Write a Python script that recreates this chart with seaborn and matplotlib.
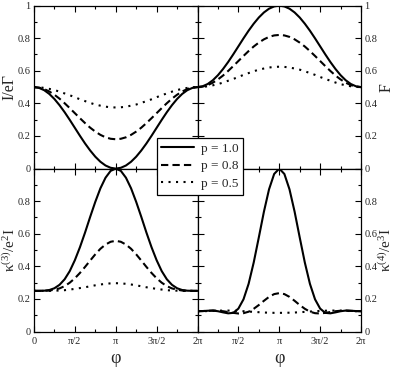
import numpy as np
import matplotlib
matplotlib.use('Agg')
import matplotlib.pyplot as plt
import seaborn as sns

sns.set_style('ticks')
plt.rcParams['font.family'] = ['Liberation Serif', 'DejaVu Serif']
plt.rcParams['mathtext.default'] = 'regular'

# phase grid: 0 .. 2pi in steps of pi/16
phi = np.linspace(0, 2 * np.pi, 33)

p_labels = ['p = 1.0', 'p = 0.8', 'p = 0.5']

# current I/eGamma
current_p10 = [0.500, 0.495, 0.481, 0.458, 0.427, 0.389, 0.346, 0.299, 0.250, 0.201, 0.154,
               0.111, 0.073, 0.042, 0.019, 0.005, 0.000, 0.005, 0.019, 0.042, 0.073, 0.111,
               0.154, 0.201, 0.250, 0.299, 0.346, 0.389, 0.427, 0.458, 0.481, 0.495, 0.500]
current_p08 = [0.500, 0.497, 0.488, 0.473, 0.453, 0.429, 0.401, 0.371, 0.340, 0.309, 0.279,
               0.251, 0.227, 0.207, 0.192, 0.183, 0.180, 0.183, 0.192, 0.207, 0.227, 0.251,
               0.279, 0.309, 0.340, 0.371, 0.401, 0.429, 0.453, 0.473, 0.488, 0.497, 0.500]
current_p05 = [0.500, 0.499, 0.495, 0.489, 0.482, 0.472, 0.461, 0.450, 0.438, 0.425, 0.414,
               0.403, 0.393, 0.386, 0.380, 0.376, 0.375, 0.376, 0.380, 0.386, 0.393, 0.403,
               0.414, 0.425, 0.438, 0.450, 0.461, 0.472, 0.482, 0.489, 0.495, 0.499, 0.500]

# Fano factor F
fano_p10 = [0.500, 0.505, 0.519, 0.542, 0.573, 0.611, 0.654, 0.701, 0.750, 0.799, 0.846,
            0.889, 0.927, 0.958, 0.981, 0.995, 1.000, 0.995, 0.981, 0.958, 0.927, 0.889,
            0.846, 0.799, 0.750, 0.701, 0.654, 0.611, 0.573, 0.542, 0.519, 0.505, 0.500]
fano_p08 = [0.500, 0.503, 0.512, 0.527, 0.547, 0.571, 0.599, 0.629, 0.660, 0.691, 0.721,
            0.749, 0.773, 0.793, 0.808, 0.817, 0.820, 0.817, 0.808, 0.793, 0.773, 0.749,
            0.721, 0.691, 0.660, 0.629, 0.599, 0.571, 0.547, 0.527, 0.512, 0.503, 0.500]
fano_p05 = [0.500, 0.501, 0.505, 0.511, 0.518, 0.528, 0.539, 0.550, 0.562, 0.575, 0.586,
            0.597, 0.607, 0.614, 0.620, 0.624, 0.625, 0.624, 0.620, 0.614, 0.607, 0.597,
            0.586, 0.575, 0.562, 0.550, 0.539, 0.528, 0.518, 0.511, 0.505, 0.501, 0.500]

# third cumulant kappa3/e^2 I
k3_p10 = [0.250, 0.250, 0.251, 0.255, 0.266, 0.287, 0.321, 0.371, 0.438, 0.518, 0.608,
          0.704, 0.796, 0.879, 0.944, 0.986, 1.000, 0.986, 0.944, 0.879, 0.796, 0.704,
          0.608, 0.518, 0.438, 0.371, 0.321, 0.287, 0.266, 0.255, 0.251, 0.250, 0.250]
k3_p08 = [0.250, 0.250, 0.250, 0.252, 0.257, 0.265, 0.279, 0.300, 0.327, 0.360, 0.397,
          0.436, 0.474, 0.508, 0.534, 0.551, 0.557, 0.551, 0.534, 0.508, 0.474, 0.436,
          0.397, 0.360, 0.327, 0.300, 0.279, 0.265, 0.257, 0.252, 0.250, 0.250, 0.250]
k3_p05 = [0.250, 0.250, 0.250, 0.250, 0.251, 0.252, 0.254, 0.258, 0.262, 0.267, 0.272,
          0.278, 0.284, 0.289, 0.293, 0.296, 0.297, 0.296, 0.293, 0.289, 0.284, 0.278,
          0.272, 0.267, 0.262, 0.258, 0.254, 0.252, 0.251, 0.250, 0.250, 0.250, 0.250]

# fourth cumulant kappa4/e^3 I
k4_p10 = [0.125, 0.126, 0.128, 0.129, 0.125, 0.118, 0.112, 0.115, 0.141, 0.198, 0.293,
          0.424, 0.578, 0.736, 0.873, 0.967, 1.000, 0.967, 0.873, 0.736, 0.578, 0.424,
          0.293, 0.198, 0.141, 0.115, 0.112, 0.118, 0.125, 0.129, 0.128, 0.126, 0.125]
k4_p08 = [0.125, 0.126, 0.127, 0.129, 0.128, 0.125, 0.120, 0.115, 0.111, 0.113, 0.122,
          0.140, 0.163, 0.189, 0.213, 0.230, 0.236, 0.230, 0.213, 0.189, 0.163, 0.140,
          0.122, 0.113, 0.111, 0.115, 0.120, 0.125, 0.128, 0.129, 0.127, 0.126, 0.125]
k4_p05 = [0.125, 0.125, 0.126, 0.127, 0.128, 0.129, 0.129, 0.128, 0.127, 0.125, 0.123,
          0.121, 0.119, 0.117, 0.116, 0.115, 0.115, 0.115, 0.116, 0.117, 0.119, 0.121,
          0.123, 0.125, 0.127, 0.128, 0.129, 0.129, 0.128, 0.127, 0.126, 0.125, 0.125]

x_tick_labels = ['0', 'π/2', 'π', '3π/2', '2π']
y_tick_labels = ['0', '0.2', '0.4', '0.6', '0.8', '1']

line_styles = ['-', (0, (3.5, 2.0)), (0, (1.0, 2.6))]

# (y label, label x-position in axes coords, series)
panels = [
    ('I/eΓ', -0.10, [current_p10, current_p08, current_p05]),
    ('F', 1.11, [fano_p10, fano_p08, fano_p05]),
    ('κ$^{(3)}$/e$^2$I', -0.095, [k3_p10, k3_p08, k3_p05]),
    ('κ$^{(4)}$/e$^3$I', 1.10, [k4_p10, k4_p08, k4_p05]),
]

fig, axes = plt.subplots(2, 2, figsize=(3.95, 3.73), dpi=100)
fig.subplots_adjust(left=0.086, right=0.914, top=0.985, bottom=0.111, hspace=0, wspace=0)

for i, ax in enumerate(axes.flat):
    ylab, lab_x, series = panels[i]
    for vals, ls, lab in zip(series, line_styles, p_labels):
        sns.lineplot(x=phi, y=vals, ax=ax, color='k', lw=1.5, linestyle=ls, label=lab, legend=False)
    ax.set_xlim(0, 2 * np.pi)
    ax.set_ylim(0, 1)
    ax.set_xticks(np.arange(5) * np.pi / 2)
    ax.set_xticks(np.arange(9) * np.pi / 4, minor=True)
    ax.set_yticks(np.arange(6) * 0.2)
    ax.set_yticks(np.arange(11) * 0.1, minor=True)
    ax.tick_params(which='both', direction='in', top=True, bottom=True, left=True, right=True,
                   color='k', width=0.8, labelsize=7.5, pad=2.5)
    ax.tick_params(which='major', length=4.5)
    ax.tick_params(which='minor', length=2.5)
    for sp in ax.spines.values():
        sp.set_color('k')
        sp.set_linewidth(0.9)
    col = i % 2
    row = i // 2
    # y tick labels
    ylabs = list(y_tick_labels)
    if row == 1:
        ylabs[-1] = ''
    ax.set_yticklabels(ylabs)
    ax.set_ylabel(ylab, fontsize=11 if row == 1 else 11.5)
    if col == 1:
        ax.tick_params(labelleft=False, labelright=True)
        ax.yaxis.set_label_position('right')
    ax.yaxis.set_label_coords(lab_x, 0.5)
    # x tick labels
    if row == 0:
        ax.tick_params(labelbottom=False)
        ax.set_xlabel('')
    else:
        xlabs = list(x_tick_labels)
        if col == 1:
            xlabs[0] = ''
        ax.set_xticklabels(xlabs)
        ax.tick_params(axis='x', pad=4)
        ax.set_xlabel('φ', fontsize=13, labelpad=3)

handles, labels = axes[0, 0].get_legend_handles_labels()
leg = fig.legend(handles, labels, loc='upper left', bbox_to_anchor=(0.397, 0.630),
                 fontsize=9.5, frameon=True, fancybox=False, edgecolor='k', framealpha=1,
                 handlelength=2.5, labelspacing=0.4, borderpad=0.35, handletextpad=0.5,
                 borderaxespad=0)
leg.get_frame().set_linewidth(0.9)
leg.set_zorder(10)

plt.savefig('out.png', dpi=100)
